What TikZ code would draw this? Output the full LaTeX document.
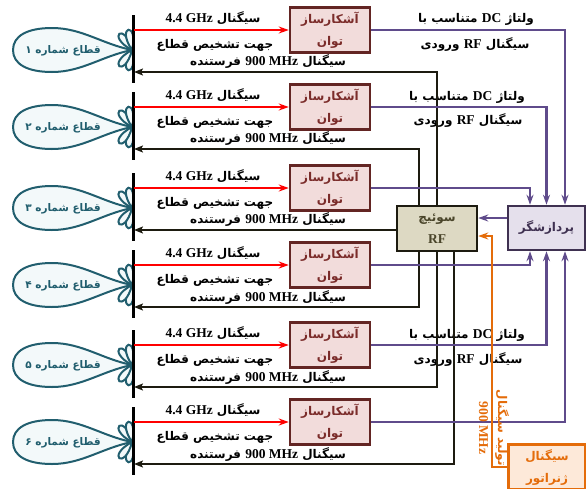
\documentclass[tikz,border=0pt]{standalone}
\usepackage{fontspec}
\usetikzlibrary{arrows.meta}
\newfontfamily\fafont[Script=Arabic]{DejaVu Sans}
\newfontfamily\enfont{Liberation Serif}
\TeXXeTstate=1
\newcommand{\fa}[1]{\beginR #1\endR}
\newcommand{\en}[1]{\beginL{\enfont\fontsize{13.5}{16}\selectfont #1}\endL}
\definecolor{lobeline}{HTML}{215E6E}
\definecolor{lobefill}{HTML}{F3F9FA}
\definecolor{detline}{HTML}{632523}
\definecolor{detfill}{HTML}{F2DCDB}
\definecolor{dettext}{HTML}{7B2C2A}
\definecolor{purp}{HTML}{5F4B8B}
\definecolor{procline}{HTML}{3F3151}
\definecolor{procfill}{HTML}{E5E0EC}
\definecolor{swline}{HTML}{1D1B10}
\definecolor{swfill}{HTML}{DDD9C3}
\definecolor{swtext}{HTML}{4A452A}
\definecolor{genline}{HTML}{E46C0A}
\definecolor{genfill}{HTML}{FDE9D9}

\begin{document}
\begin{tikzpicture}[x=1pt, y=-1pt]
    \tikzstyle{every node} = [align=center, inner sep=1pt, font=\fafont\bfseries\fontsize{12}{22}\selectfont]
    \tikzstyle{lobe} = [draw=lobeline, line width=2pt, fill=lobefill, line join=round]
    \tikzstyle{petal} = [draw=lobeline, line width=2pt, fill=lobefill]
    \tikzstyle{sector} = [text=lobeline, font=\fafont\bfseries\fontsize{10.5}{12}\selectfont]
    \tikzstyle{detector} = [draw=detline, line width=2.5pt, fill=detfill, text=dettext, minimum width=80pt, minimum height=45pt, inner sep=0pt]
    \tikzstyle{rfswitch} = [draw=swline, line width=2.5pt, fill=swfill, text=swtext, minimum width=80pt, minimum height=45pt, inner sep=0pt]
    \tikzstyle{processor} = [draw=procline, line width=2.5pt, fill=procfill, text=procline, minimum width=77pt, minimum height=44pt]
    \tikzstyle{generator} = [draw=genline, line width=2.5pt, fill=genfill, text=genline, minimum width=77pt, minimum height=45pt, inner sep=0pt]
    \tikzstyle{antenna} = [line width=3pt]
    \tikzstyle{probe} = [draw=red, line width=2.3pt, -{Stealth[length=10pt,width=7pt]}]
    \tikzstyle{feed} = [draw=swline, line width=2.3pt, -{Stealth[length=9pt,width=7pt,inset=2pt]}]
    \tikzstyle{dc} = [draw=purp, line width=2.3pt, -{Stealth[length=10pt,width=7pt]}]
    \tikzstyle{ctrl} = [draw=genline, line width=2.5pt, -{Stealth[length=10pt,width=7pt]}]
    \useasboundingbox (0,0) rectangle (586,488);

    \foreach \i/\r/\d in {1/30/۱, 2/107/۲, 3/188/۳, 4/265/۴, 5/345/۵, 6/422/۶} {
        \begin{scope}[shift={(132,\r+20)}]
            \foreach \a in {232,260,100,128}
                \draw[petal] (0,0) .. controls +(\a-24:30) and +(\a+24:30) .. (0,0);
            \draw[lobe] (0,0) .. controls (-30,-6) and (-50,-22) .. (-80,-22) .. controls (-105,-22) and (-119,-14) .. (-119,0)
                .. controls (-119,14) and (-105,22) .. (-80,22) .. controls (-50,22) and (-30,6) .. (0,0);
        \end{scope}
        \node[sector] (sec\i) at (63,\r+21) {\fa{قطاع شماره \d}};
        \draw[antenna] (133,\r-15) -- (133,\r+53);
        \coordinate (ant\i) at (134,\r);
        \coordinate (rx\i) at (134,\r+42);
        \node[detector] (det\i) at (330,\r) {\fa{آشکارساز}\\\fa{توان}};
        \draw[probe] (ant\i) -- (det\i.west);
        \node (sig\i) at (213,\r-12) {\fa{سیگنال \en{4.4 GHz}}};
        \node (dir\i) at (215,\r+15) {\fa{جهت تشخیص قطاع}};
        \node (tx\i) at (268,\r+32) {\fa{سیگنال \en{900 MHz} فرستنده}};
    }

    \node (vdc1) at (476,19) {\fa{ولتاژ \en{DC} متناسب با}};
    \node (rfin1) at (475,45) {\fa{سیگنال \en{RF} ورودی}};
    \node (vdc2) at (467,97) {\fa{ولتاژ \en{DC} متناسب با}};
    \node (rfin2) at (468,121) {\fa{سیگنال \en{RF} ورودی}};
    \node (vdc5) at (467,335) {\fa{ولتاژ \en{DC} متناسب با}};
    \node (rfin5) at (468,359) {\fa{سیگنال \en{RF} ورودی}};

    \node[rfswitch] (sw) at (437,228.5) {\fa{سوئیچ}\\\en{RF}};
    \node[processor] (proc) at (546.5,228) {\fa{پردازشگر}};
    \node[generator] (gen) at (547,467) {\fa{سیگنال}\\\fa{ژنراتور}};

    \draw[feed] (sw.north) |- (rx1);
    \draw[feed] ([xshift=-18pt]sw.north) |- (rx2);
    \draw[feed] (sw.west |- rx3) -- (rx3);
    \draw[feed] ([xshift=-18pt]sw.south) |- (rx4);
    \draw[feed] (sw.south) |- (rx5);
    \draw[feed] ([xshift=17pt]sw.south) |- (rx6);

    \draw[dc] (det1.east) -| ([xshift=18.5pt]proc.north);
    \draw[dc] (det2.east) -| (proc.north);
    \draw[dc] (det3.east) -| ([xshift=-16.5pt]proc.north);
    \draw[dc] (det4.east) -| ([xshift=-16.5pt]proc.south);
    \draw[dc] (det5.east) -| (proc.south);
    \draw[dc] (det6.east) -| ([xshift=18.5pt]proc.south);
    \draw[dc] ([yshift=10pt]proc.west) -- ([yshift=10pt]proc.west -| sw.east);

    \coordinate (bend) at (492,236);
    \draw[ctrl] (gen.west) -| (bend) -- (bend -| sw.east);
    \node[rotate=-90, text=genline, font=\fafont\bfseries\fontsize{12}{19}\selectfont] (gentxt) at (494,428) {\fa{تولید سیگنال}\\\en{900 MHz}};
\end{tikzpicture}
\end{document}
